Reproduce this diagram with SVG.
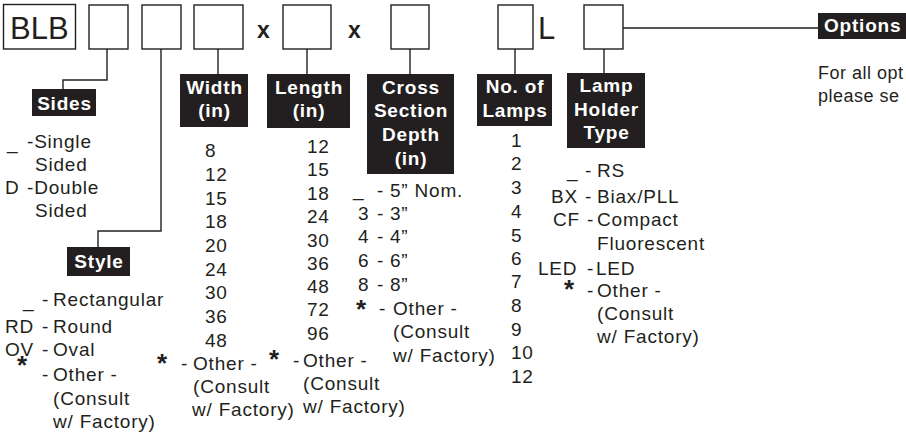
<svg xmlns="http://www.w3.org/2000/svg" width="906" height="437" viewBox="0 0 906 437">
<style>
.bx{fill:#fff;stroke:#231f20;stroke-width:1.4}
.lb{fill:#231f20}
.lt{font-family:"Liberation Sans",Arial,sans-serif;font-size:19px;font-weight:bold;fill:#fff;letter-spacing:0.8px;text-anchor:middle}
.t{font-family:"Liberation Sans",Arial,sans-serif;font-size:19px;fill:#231f20;letter-spacing:0.8px}
.big{font-family:"Liberation Sans",Arial,sans-serif;font-size:31px;fill:#231f20}
.xx{font-family:"Liberation Sans",Arial,sans-serif;font-size:23px;font-weight:bold;fill:#231f20}
.ast{font-family:"Liberation Sans",Arial,sans-serif;font-size:26px;font-weight:bold;fill:#231f20}
.sm{font-family:"Liberation Sans",Arial,sans-serif;font-size:18px;fill:#231f20;letter-spacing:0.5px}
.c{fill:none;stroke:#231f20;stroke-width:1.4}
</style>
<rect width="906" height="437" fill="#fff"/>
<g id="connectors">
<polyline class="c" points="107,49 107,80 63,80 63,89"/>
<polyline class="c" points="161,49 161,231 98,231 98,247"/>
<line class="c" x1="218" y1="49" x2="218" y2="75"/>
<line class="c" x1="307" y1="49" x2="307" y2="75"/>
<line class="c" x1="410" y1="49" x2="410" y2="75"/>
<line class="c" x1="515" y1="49" x2="515" y2="75"/>
<line class="c" x1="604" y1="49" x2="604" y2="73"/>
<line class="c" x1="623" y1="28" x2="818" y2="28"/>
</g>
<g id="code">
<rect class="bx" x="3.5" y="4.5" width="72" height="44.5"/>
<text class="big" x="10" y="39">BLB</text>
<rect class="bx" x="89" y="5" width="39" height="44"/>
<rect class="bx" x="142" y="5" width="39" height="44"/>
<rect class="bx" x="194" y="5" width="49" height="44"/>
<text class="xx" x="257" y="38">x</text>
<rect class="bx" x="283" y="5" width="48" height="44"/>
<text class="xx" x="348" y="38">x</text>
<rect class="bx" x="391" y="5" width="38" height="44"/>
<rect class="bx" x="498" y="5" width="35" height="44"/>
<text class="big" x="538" y="39">L</text>
<rect class="bx" x="584" y="5" width="39" height="44"/>
</g>
<g id="options">
<rect class="lb" x="818" y="13" width="88" height="26"/>
<text class="lt" x="824" y="32" style="text-anchor:start">Options</text>
<text class="sm" x="818" y="79">For all opt</text>
<text class="sm" x="818" y="102">please se</text>
</g>
<g id="sides">
<rect class="lb" x="32" y="89" width="64" height="27"/>
<text class="lt" x="64.5" y="110">Sides</text>
<text class="t" x="7" y="149">_</text>
<text class="t" x="27" y="148">-Single</text>
<text class="t" x="35" y="171">Sided</text>
<text class="t" x="5" y="194">D</text>
<text class="t" x="27" y="194">-Double</text>
<text class="t" x="35" y="217">Sided</text>
</g>
<g id="style">
<rect class="lb" x="67" y="247" width="63" height="29"/>
<text class="lt" x="99" y="268">Style</text>
<text class="t" x="23" y="307">_</text>
<text class="t" x="42" y="306">-</text>
<text class="t" x="53" y="306">Rectangular</text>
<text class="t" x="5" y="333">RD</text>
<text class="t" x="42" y="333">-</text>
<text class="t" x="53" y="333">Round</text>
<text class="t" x="5" y="356">OV</text>
<text class="t" x="42" y="356">-</text>
<text class="t" x="53" y="356">Oval</text>
<text class="ast" x="17" y="374">*</text>
<text class="t" x="42" y="381">-</text>
<text class="t" x="53" y="381">Other -</text>
<text class="t" x="53" y="405">(Consult</text>
<text class="t" x="53" y="428">w/ Factory)</text>
</g>
<g id="width">
<rect class="lb" x="180" y="74" width="68" height="53"/>
<text class="lt" x="214.5" y="94">Width</text>
<text class="lt" x="214.5" y="117">(in)</text>
<text class="t" x="205" y="157">8</text>
<text class="t" x="205" y="181">12</text>
<text class="t" x="205" y="205">15</text>
<text class="t" x="205" y="228">18</text>
<text class="t" x="205" y="252">20</text>
<text class="t" x="205" y="276">24</text>
<text class="t" x="205" y="299">30</text>
<text class="t" x="205" y="323">36</text>
<text class="t" x="205" y="347">48</text>
<text class="ast" x="157" y="372">*</text>
<text class="t" x="181" y="370">-</text>
<text class="t" x="193" y="370">Other -</text>
<text class="t" x="193" y="393">(Consult</text>
<text class="t" x="192" y="416">w/ Factory)</text>
</g>
<g id="length">
<rect class="lb" x="267" y="74" width="83" height="54"/>
<text class="lt" x="309" y="94">Length</text>
<text class="lt" x="309" y="117">(in)</text>
<text class="t" x="307" y="153">12</text>
<text class="t" x="307" y="176">15</text>
<text class="t" x="307" y="200">18</text>
<text class="t" x="307" y="223">24</text>
<text class="t" x="307" y="247">30</text>
<text class="t" x="307" y="270">36</text>
<text class="t" x="307" y="293">48</text>
<text class="t" x="307" y="316">72</text>
<text class="t" x="307" y="340">96</text>
<text class="ast" x="269" y="368">*</text>
<text class="t" x="293" y="367">-</text>
<text class="t" x="303" y="367">Other -</text>
<text class="t" x="303" y="390">(Consult</text>
<text class="t" x="303" y="413">w/ Factory)</text>
</g>
<g id="depth">
<rect class="lb" x="367" y="74" width="87" height="100"/>
<text class="lt" x="411" y="94">Cross</text>
<text class="lt" x="411" y="117">Section</text>
<text class="lt" x="411" y="141">Depth</text>
<text class="lt" x="411" y="165">(in)</text>
<text class="t" x="353" y="196">_</text>
<text class="t" x="377" y="197">-</text>
<text class="t" x="390" y="197">5” Nom.</text>
<text class="t" x="358" y="220">3</text>
<text class="t" x="377" y="220">-</text>
<text class="t" x="390" y="220">3”</text>
<text class="t" x="358" y="243">4</text>
<text class="t" x="377" y="243">-</text>
<text class="t" x="390" y="243">4”</text>
<text class="t" x="358" y="267">6</text>
<text class="t" x="377" y="267">-</text>
<text class="t" x="390" y="267">6”</text>
<text class="t" x="358" y="291">8</text>
<text class="t" x="377" y="291">-</text>
<text class="t" x="390" y="291">8”</text>
<text class="ast" x="356" y="318">*</text>
<text class="t" x="379" y="315">-</text>
<text class="t" x="393" y="315">Other -</text>
<text class="t" x="393" y="338">(Consult</text>
<text class="t" x="393" y="362">w/ Factory)</text>
</g>
<g id="lamps">
<rect class="lb" x="477" y="74" width="75" height="52"/>
<text class="lt" x="515" y="93">No. of</text>
<text class="lt" x="515" y="117">Lamps</text>
<text class="t" x="511" y="147">1</text>
<text class="t" x="511" y="170">2</text>
<text class="t" x="511" y="194">3</text>
<text class="t" x="511" y="218">4</text>
<text class="t" x="511" y="242">5</text>
<text class="t" x="511" y="265">6</text>
<text class="t" x="511" y="288">7</text>
<text class="t" x="511" y="312">8</text>
<text class="t" x="511" y="336">9</text>
<text class="t" x="511" y="359">10</text>
<text class="t" x="511" y="383">12</text>
</g>
<g id="holder">
<rect class="lb" x="567" y="73" width="78" height="75"/>
<text class="lt" x="606.5" y="92">Lamp</text>
<text class="lt" x="606.5" y="116">Holder</text>
<text class="lt" x="606.5" y="139">Type</text>
<text class="t" x="567" y="177">_</text>
<text class="t" x="585" y="177">-</text>
<text class="t" x="597" y="177">RS</text>
<text class="t" x="551" y="203">BX</text>
<text class="t" x="585" y="203">-</text>
<text class="t" x="597" y="203">Biax/PLL</text>
<text class="t" x="553" y="226">CF</text>
<text class="t" x="587" y="226">-</text>
<text class="t" x="597" y="226">Compact</text>
<text class="t" x="597" y="250">Fluorescent</text>
<text class="t" x="538" y="275">LED</text>
<text class="t" x="587" y="275">-</text>
<text class="t" x="596" y="275">LED</text>
<text class="ast" x="564" y="298">*</text>
<text class="t" x="587" y="297">-</text>
<text class="t" x="597" y="297">Other -</text>
<text class="t" x="597" y="320">(Consult</text>
<text class="t" x="597" y="343">w/ Factory)</text>
</g>
</svg>
